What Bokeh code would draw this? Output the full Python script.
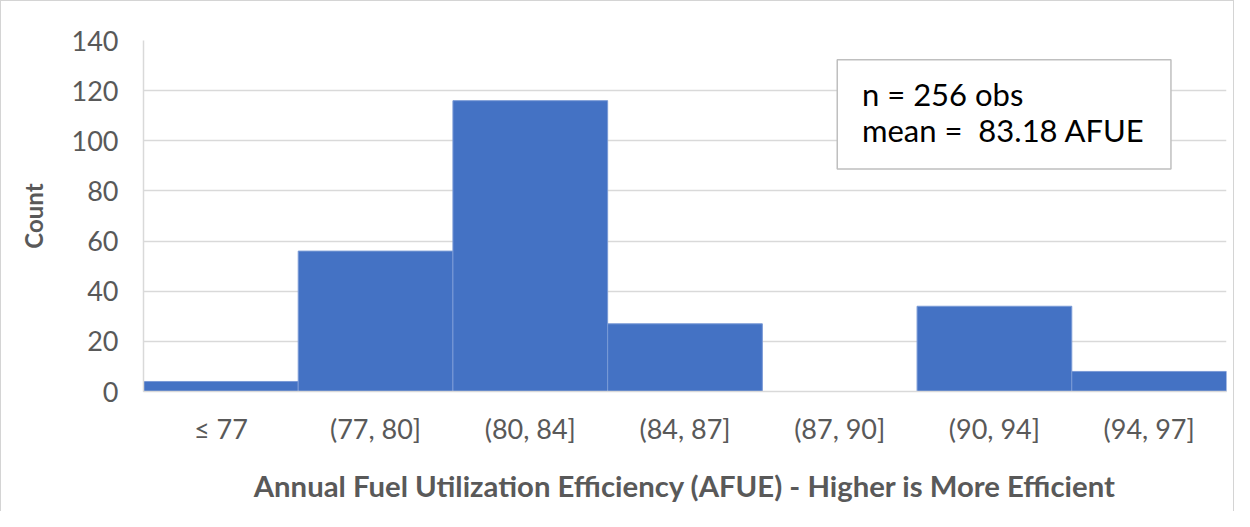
from bokeh.plotting import figure
from bokeh.models import FactorRange, Range1d, FixedTicker, BoxAnnotation, Label
from bokeh.embed import file_html
from bokeh.resources import INLINE

# ---- data ----
categories = ["≤ 77", "(77, 80]", "(80, 84]", "(84, 87]", "(87, 90]", "(90, 94]", "(94, 97]"]
counts = [4, 56, 116, 27, 0, 34, 8]
y_ticks = [0, 20, 40, 60, 80, 100, 120, 140]
n_obs = 256
mean_afue = 83.18

FONT = "Lato"
GRAY = "#595959"

p = figure(
    x_range=FactorRange(*categories, range_padding=0),
    y_range=Range1d(0, 140),
    width=1234, height=511,
    output_backend="svg", toolbar_location=None,
    min_border_left=142, min_border_right=9,
    min_border_top=39, min_border_bottom=121,
)
p.styles = {"border-left": "1px solid #D4D4D4", "border-top": "1px solid #D4D4D4",
            "border-right": "1px solid #D4D4D4"}

p.vbar(x=categories, top=counts, width=1.0, fill_color="#4472C4",
       line_color="#7a9ad6", line_width=1)

p.outline_line_color = None
p.xgrid.grid_line_color = None
p.ygrid.grid_line_color = "#D9D9D9"
p.ygrid.grid_line_width = 1.5

p.yaxis.ticker = FixedTicker(ticks=y_ticks)
for ax in (p.xaxis[0], p.yaxis[0]):
    ax.axis_line_color = "#D9D9D9"
    ax.axis_line_width = 1.5
    ax.major_tick_line_color = None
    ax.minor_tick_line_color = None
    ax.major_tick_out = 0
    ax.major_tick_in = 0
    ax.major_label_text_font = FONT
    ax.major_label_text_color = GRAY
    ax.major_label_text_font_size = "27px"
    ax.axis_label_text_font = FONT
    ax.axis_label_text_font_style = "bold"
    ax.axis_label_text_color = GRAY

p.yaxis.major_label_standoff = 25
p.yaxis.axis_label = "Count"
p.yaxis.axis_label_text_font_size = "24px"
p.yaxis.axis_label_standoff = 21

p.xaxis.major_label_standoff = 20
p.xaxis.axis_label = "Annual Fuel Utilization Efficiency (AFUE) - Higher is More Efficient"
p.xaxis.axis_label_text_font_size = "29.3px"
p.xaxis.axis_label_standoff = 20

box = BoxAnnotation(left=4.484, right=6.641, bottom=88.7, top=132.3,
                    fill_color="white", fill_alpha=1.0,
                    line_color="#BFBFBF", line_width=1.5, line_alpha=1.0)
p.add_layout(box)

lab1 = Label(x=4.644, y=118.5, text=f"n = {n_obs} obs", text_font=FONT,
             text_font_size="31px", text_color="black", text_baseline="alphabetic")
lab2 = Label(x=4.644, y=104.5, text=f"mean = \u00a0{mean_afue:.2f} AFUE", text_font=FONT,
             text_font_size="31px", text_color="black", text_baseline="alphabetic")
p.add_layout(lab1)
p.add_layout(lab2)

open("out.html", "w").write(file_html(p, INLINE))
